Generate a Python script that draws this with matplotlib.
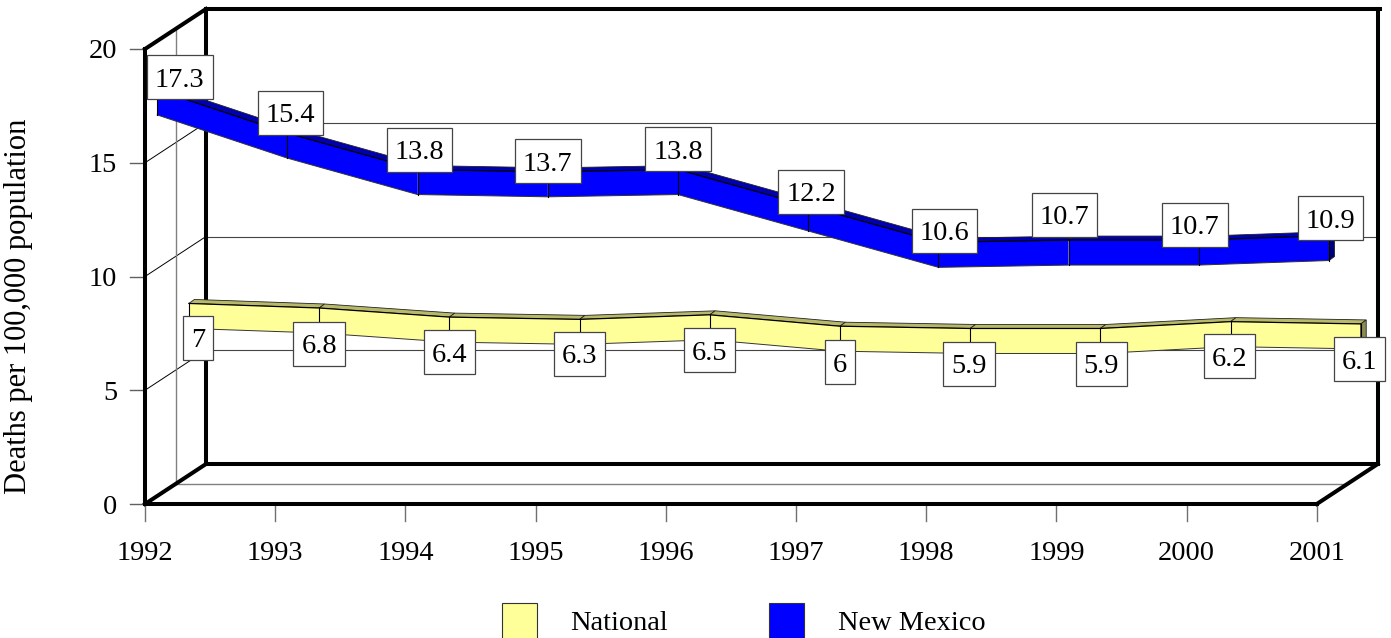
import matplotlib
matplotlib.use('Agg')
import matplotlib.pyplot as plt
from matplotlib.patches import Polygon, Rectangle

years = [1992, 1993, 1994, 1995, 1996, 1997, 1998, 1999, 2000, 2001]
national = [7, 6.8, 6.4, 6.3, 6.5, 6, 5.9, 5.9, 6.2, 6.1]
new_mexico = [17.3, 15.4, 13.8, 13.7, 13.8, 12.2, 10.6, 10.7, 10.7, 10.9]
y_ticks = [0, 5, 10, 15, 20]

# where each label box sits relative to its ribbon point, in pixels
national_offsets = [(9, 22), (0, 23), (0, 22.5), (0, 22), (0, 23),
                    (0, 23.5), (-1, 23), (1, 23), (-1, 22), (-1, 23)]
new_mexico_offsets = [(22.5, -25), (3, -33), (2, -32.5), (0, -23), (0, -33),
                      (3, -26.5), (6, -24), (-4, -38), (-4, -28), (1.5, -30)]

plt.rcParams['font.family'] = ['Liberation Serif', 'DejaVu Serif']
FONT = 20.4
THICK = 2.9
DIGIT_DROP = 9.5  # baseline sits this far below the visual centre of the digits

X0, X_STEP = 145, 130.2
Y0, Y_SCALE = 504, 22.75
DEPTH_X, DEPTH_Y = 61, -40


def px(i, depth=0.0):
    return X0 + i * X_STEP + depth * DEPTH_X


def py(v, depth=0.0):
    return Y0 - v * Y_SCALE + depth * DEPTH_Y


def label_box(x, y, s):
    t = ax.text(x, y + DIGIT_DROP, s, fontsize=FONT, ha='center', va='baseline', zorder=8)
    w = t.get_window_extent(renderer).width + 16
    ax.add_patch(Rectangle((x - w / 2, y - 22), w, 44, fc='white', ec='#444444', lw=0.9, zorder=7))


def ribbon(values, offsets, depth, face, top, side):
    half = 12.5
    step_x, step_y = 5.5, -4
    n = len(values)
    xs = [px(i, depth) for i in range(n)]
    ys = [py(v, depth) for v in values]
    for i in range(n - 1):
        ax.add_patch(Polygon([(xs[i], ys[i] - half), (xs[i + 1], ys[i + 1] - half),
                              (xs[i + 1] + step_x, ys[i + 1] - half + step_y),
                              (xs[i] + step_x, ys[i] - half + step_y)],
                             fc=top, ec='#222222', lw=0.6, zorder=3))
        ax.add_patch(Polygon([(xs[i], ys[i] - half), (xs[i + 1], ys[i + 1] - half),
                              (xs[i + 1], ys[i + 1] + half), (xs[i], ys[i] + half)],
                             fc=face, ec='none', zorder=4))
    ax.plot(xs, [y - half for y in ys], color='black', lw=0.9, zorder=5)
    ax.plot(xs, [y + half for y in ys], color='#333333', lw=0.7, zorder=5)
    ax.add_patch(Polygon([(xs[-1], ys[-1] - half), (xs[-1] + step_x, ys[-1] - half + step_y),
                          (xs[-1] + step_x, ys[-1] + half + step_y), (xs[-1], ys[-1] + half)],
                         fc=side, ec='#222222', lw=0.6, zorder=4))
    for x, y in zip(xs, ys):
        ax.plot([x, x], [y - half, y + half], color='black', lw=0.8, zorder=5)
    for x, y, v, (dx, dy) in zip(xs, ys, values, offsets):
        label_box(x + dx, y + dy, str(v))


fig = plt.figure(figsize=(13.91, 6.38), dpi=100)
ax = fig.add_axes([0, 0, 1, 1])
ax.set_xlim(0, 1391)
ax.set_ylim(638, 0)
ax.axis('off')
renderer = fig.canvas.get_renderer()

last = len(years) - 1

# gridlines on the walls
for v in y_ticks[1:-1]:
    ax.plot([px(0), px(0, 1)], [py(v), py(v, 1)], color='black', lw=0.7, zorder=1)
    ax.plot([px(0, 1), px(last, 1)], [py(v, 1), py(v, 1)], color='#444444', lw=0.8, zorder=1)
ax.plot([px(0, 0.5), px(0, 0.5)], [py(0, 0.5), py(20, 0.5)], color='#808080', lw=1, zorder=1)
ax.plot([px(0, 0.5), px(last, 0.5)], [py(0, 0.5), py(0, 0.5)], color='#808080', lw=1, zorder=1)

# back walls and floor frame
ax.plot([px(0, 1), px(0, 1)], [py(0, 1), py(20, 1)], color='black', lw=THICK, zorder=2)
ax.plot([px(0, 1), px(last, 1) + 2], [py(20, 1), py(20, 1)], color='black', lw=THICK, zorder=2)
ax.plot([px(last, 1), px(last, 1)], [py(0, 1), py(20, 1)], color='black', lw=THICK, zorder=2)
ax.plot([px(0, 1), px(last, 1)], [py(0, 1), py(0, 1)], color='black', lw=THICK, zorder=2)

ribbon(national, national_offsets, 0.72, '#FFFF99', '#B8B86B', '#8C8C52')
ribbon(new_mexico, new_mexico_offsets, 0.2, '#0000FF', '#0000B0', '#00007F')

# front frame
ax.plot([px(0), px(0)], [py(0), py(20)], color='black', lw=THICK, zorder=6)
ax.plot([px(0), px(last)], [py(0), py(0)], color='black', lw=THICK, zorder=6)
ax.plot([px(0), px(0, 1)], [py(20), py(20, 1)], color='black', lw=THICK, zorder=6)
ax.plot([px(0), px(0, 1)], [py(0), py(0, 1)], color='black', lw=THICK, zorder=6)
ax.plot([px(last), px(last, 1)], [py(0), py(0, 1)], color='black', lw=THICK, zorder=6)

for v in y_ticks:
    ax.plot([px(0) - 15, px(0)], [py(v), py(v)], color='#606060', lw=1, zorder=1)
    ax.text(117, py(v) + DIGIT_DROP, str(v), fontsize=FONT, ha='right', va='baseline')
for i, year in enumerate(years):
    ax.plot([px(i), px(i)], [py(0), py(0) + 17], color='#707070', lw=1, zorder=1)
    ax.text(px(i), 560, str(year), fontsize=FONT, ha='center', va='baseline')

ax.text(33, 306, 'Deaths per 100,000 population', fontsize=22, rotation=90,
        ha='right', va='center', rotation_mode='default')

# legend
ax.add_patch(Rectangle((502, 603), 35, 36, fc='#FFFF99', ec='#333333', lw=0.8))
ax.text(570, 630, 'National', fontsize=FONT, ha='left', va='baseline')
ax.add_patch(Rectangle((769, 603), 35, 36, fc='#0000FF', ec='#333333', lw=0.8))
ax.text(838, 630, 'New Mexico', fontsize=FONT, ha='left', va='baseline')

fig.savefig('out.png', dpi=100)
plt.close(fig)
